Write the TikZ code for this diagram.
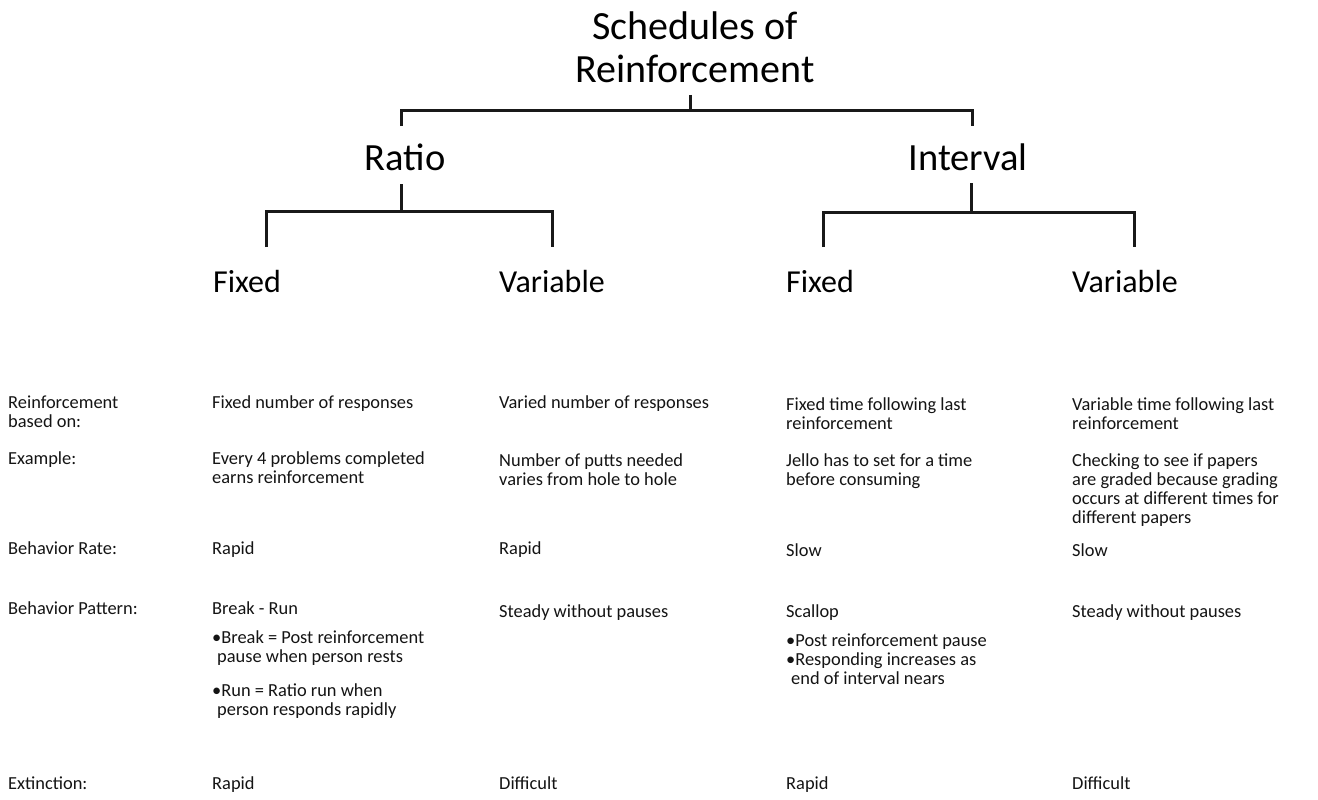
\documentclass[tikz,border=0pt]{standalone}
\usepackage{fontspec}
\setmainfont{Carlito}
\newcommand{\celltxt}[1]{\begin{tabular}[t]{@{}l@{}}#1\end{tabular}}
\begin{document}
\begin{tikzpicture}[x=1pt,y=-1pt,
  conn/.style={line width=3pt, line cap=butt, line join=miter, draw=black!90},
  cell/.style={anchor=base west, inner sep=0pt, font=\fontsize{18.4}{19}\selectfont, text=black!92},
  head/.style={anchor=base west, inner sep=0pt, font=\fontsize{32}{36}\selectfont, text=black},
  mid/.style={anchor=base, inner sep=0pt, font=\fontsize{38.5}{42}\selectfont, text=black},
  titlef/.style={anchor=base, inner sep=0pt, align=center, font=\fontsize{40}{43}\selectfont, text=black}]
\useasboundingbox (0,0) rectangle (1318,800);
\fill[white] (0,0) rectangle (1318,800);

% title
\node[titlef] (title) at (695,40) {\celltxt{\hfil Schedules of\hfil\\Reinforcement}};
\node[mid] (ratio) at (405,170) {Ratio};
\node[mid] (interval) at (968,170) {Interval};

\node[head] (rf) at (213,292) {Fixed};
\node[head] (rv) at (499,292) {Variable};
\node[head] (if) at (786,292) {Fixed};
\node[head] (iv) at (1072,292) {Variable};

% tree connectors
\coordinate (t0) at (690,95);
\coordinate (t1) at (690,110);
\coordinate (tl) at (401,126);
\coordinate (tr) at (972,126);
\draw[conn] (t0) -- (t1);
\draw[conn] (tl) -- (tl |- t1) -- (tr |- t1) -- (tr);

\coordinate (r0) at (401,184);
\coordinate (r1) at (401,211);
\coordinate (rl) at (266,247);
\coordinate (rr) at (552,247);
\draw[conn] (r0) -- (r1);
\draw[conn] (rl) -- (rl |- r1) -- (rr |- r1) -- (rr);

\coordinate (i0) at (971,183);
\coordinate (i1) at (971,212);
\coordinate (il) at (823,247);
\coordinate (ir) at (1134,247);
\draw[conn] (i0) -- (i1);
\draw[conn] (il) -- (il |- i1) -- (ir |- i1) -- (ir);

% row labels
\node[cell] (l1) at (8,408) {\celltxt{Reinforcement\\based on:}};
\node[cell] (l2) at (8,464) {Example:};
\node[cell] (l3) at (8,554) {Behavior Rate:};
\node[cell] (l4) at (8,614) {Behavior Pattern:};
\node[cell] (l5) at (8,789) {Extinction:};

% row 1
\node[cell] (a1) at (212,408) {Fixed number of responses};
\node[cell] (b1) at (499,408) {Varied number of responses};
\node[cell] (c1) at (786,410) {\celltxt{Fixed time following last\\reinforcement}};
\node[cell] (d1) at (1072,410) {\celltxt{Variable time following last\\reinforcement}};

% row 2
\node[cell] (a2) at (212,464) {\celltxt{Every 4 problems completed\\earns reinforcement}};
\node[cell] (b2) at (499,466) {\celltxt{Number of putts needed\\varies from hole to hole}};
\node[cell] (c2) at (786,466) {\celltxt{Jello has to set for a time\\before consuming}};
\node[cell] (d2) at (1072,466) {\celltxt{Checking to see if papers\\are graded because grading\\occurs at different times for\\different papers}};

% row 3
\node[cell] (a3) at (212,554) {Rapid};
\node[cell] (b3) at (499,554) {Rapid};
\node[cell] (c3) at (786,556) {Slow};
\node[cell] (d3) at (1072,556) {Slow};

% row 4
\node[cell] (a4) at (212,614) {Break - Run};
\node[cell] (a4b) at (212,643) {\celltxt{•Break = Post reinforcement\\\hspace{5pt}pause when person rests}};
\node[cell] (a4c) at (212,696) {\celltxt{•Run = Ratio run when\\\hspace{5pt}person responds rapidly}};
\node[cell] (b4) at (499,617) {Steady without pauses};
\node[cell] (c4) at (786,617) {Scallop};
\node[cell] (c4b) at (786,646) {\celltxt{•Post reinforcement pause\\•Responding increases as\\\hspace{5pt}end of interval nears}};
\node[cell] (d4) at (1072,617) {Steady without pauses};

% row 5
\node[cell] (a5) at (212,789) {Rapid};
\node[cell] (b5) at (499,789) {Difficult};
\node[cell] (c5) at (786,789) {Rapid};
\node[cell] (d5) at (1072,789) {Difficult};
\end{tikzpicture}
\end{document}
